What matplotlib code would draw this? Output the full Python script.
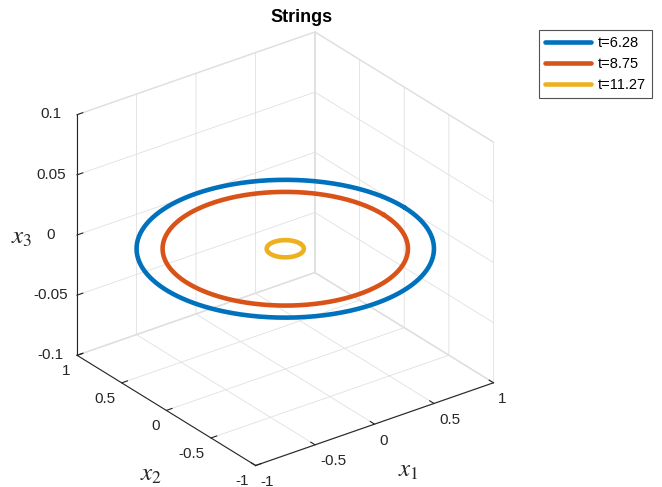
import numpy as np
import matplotlib
matplotlib.use("Agg")
import matplotlib.pyplot as plt
from mpl_toolkits.mplot3d import Axes3D  # noqa

# ---- data ----
times = [6.28, 8.75, 11.27]
radii = [1.0, 0.825, 0.125]
labels = ["t=6.28", "t=8.75", "t=11.27"]
colors = ["#0072BD", "#D95319", "#EDB120"]
xticks = [-1, -0.5, 0, 0.5, 1]
yticks = [-1, -0.5, 0, 0.5, 1]
zticks = [-0.1, -0.05, 0, 0.05, 0.1]
xticklabels = ["-1", "-0.5", "0", "0.5", "1"]
yticklabels = ["-1", "-0.5", "0", "0.5", "1"]
zticklabels = ["-0.1", "-0.05", "0", "0.05", "0.1"]

plt.rcParams['font.family'] = ['Liberation Sans', 'DejaVu Sans']
plt.rcParams['axes.unicode_minus'] = False
plt.rcParams['grid.color'] = '#e0e0e0'
plt.rcParams['grid.linewidth'] = 0.6
plt.rcParams['mathtext.fontset'] = 'stix'
plt.rcParams['axes3d.automargin'] = False

W, H = 662, 487
fig = plt.figure(figsize=(W/100, H/100), dpi=100)
S = 486
cx, cy = 278.7, 255.3
ax = fig.add_axes([(cx - S/2)/W, (H - cy - S/2)/H, S/W, S/H], projection='3d')
ax.set_proj_type('ortho')
ax.view_init(elev=27.6, azim=-126.9)
ax.set_box_aspect((1, 1, 0.913))

theta = np.linspace(0, 2*np.pi, 400)
handles = []
for r, c, lab in zip(radii, colors, labels):
    h, = ax.plot(r*np.cos(theta), r*np.sin(theta), np.zeros_like(theta),
                 color=c, lw=3.3, label=lab, solid_capstyle='round')
    handles.append(h)

ax.set_xlim(-1, 1)
ax.set_ylim(-1, 1)
ax.set_zlim(-0.1, 0.1)
ax.set_xticks(xticks)
ax.set_xticklabels(xticklabels, ha='left')
ax.set_yticks(yticks)
ax.set_yticklabels(yticklabels, ha='right')
ax.set_zticks(zticks)
ax.set_zticklabels(zticklabels, va='center_baseline')

for axis in (ax.xaxis, ax.yaxis, ax.zaxis):
    axis.set_pane_color((1, 1, 1, 1))
    axis.pane.set_edgecolor('#e0e0e0')
    axis.line.set_color('#262626')
    axis.line.set_linewidth(0.8)
    axis._axinfo['tick']['inward_factor'] = 0.0
    axis._axinfo['tick']['outward_factor'] = 0.3
    axis._axinfo['tick']['color'] = '#262626'
ax.tick_params(axis='x', labelsize=11, colors='#262626', pad=-3)
ax.tick_params(axis='y', labelsize=11, colors='#262626', pad=-3)
ax.tick_params(axis='z', labelsize=11, colors='#262626')

# axis labels placed as figure text (mplot3d would rotate them)
lab_kw = dict(ha='center', va='center', fontsize=18, color='#262626')
fig.text(408/W, 1 - 470/H, '$x_1$', **lab_kw)
fig.text(151/W, 1 - 474/H, '$x_2$', **lab_kw)
fig.text(22/W, 1 - 237/H, '$x_3$', **lab_kw)

fig.text(302/W, 1 - 17/H, 'Strings', ha='center', va='center',
         fontsize=13, fontweight='bold', color='black')

leg = fig.legend(handles=handles, loc='upper right',
                 bbox_to_anchor=(652/W, 1 - 30/H), fontsize=10.5,
                 frameon=True, fancybox=False, edgecolor='#262626',
                 handlelength=3.2, handletextpad=0.45, labelspacing=0.5,
                 borderpad=0.4, borderaxespad=0)
leg.get_frame().set_linewidth(0.8)

fig.savefig('out.png', dpi=100)
